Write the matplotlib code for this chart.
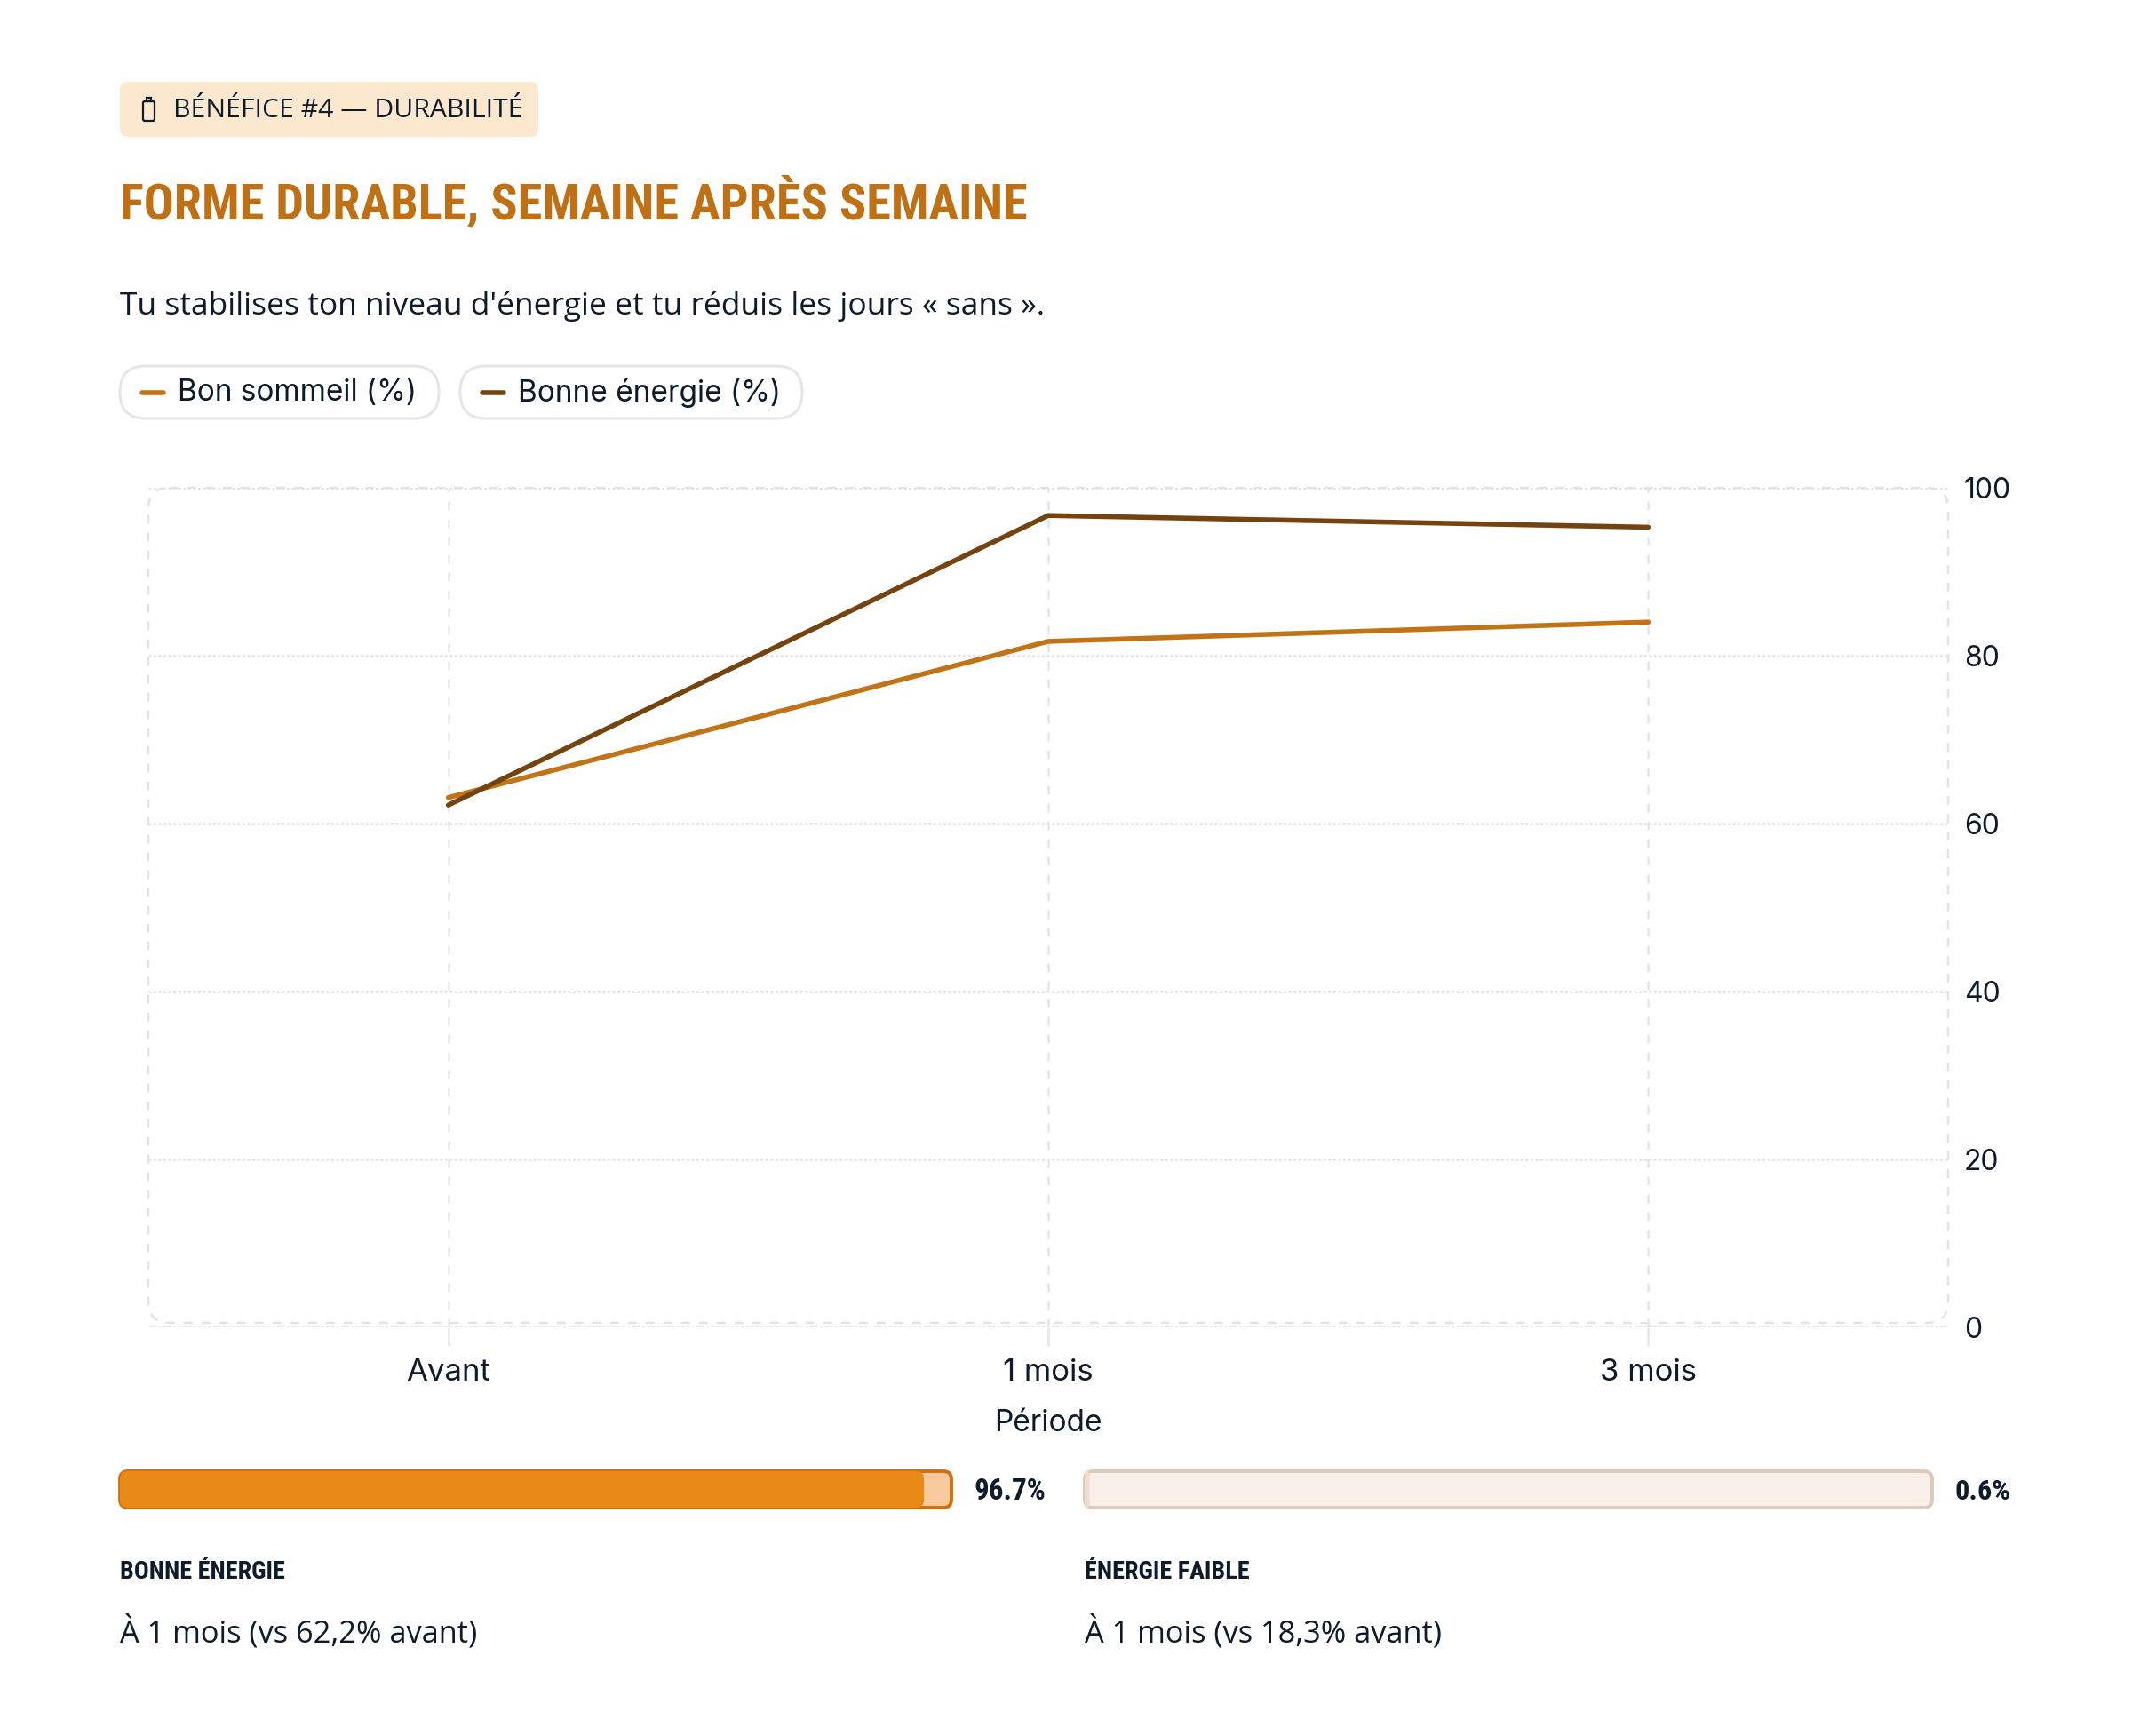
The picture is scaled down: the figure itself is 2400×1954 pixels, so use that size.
import matplotlib
matplotlib.use("Agg")
import matplotlib.pyplot as plt
from matplotlib import font_manager
from matplotlib.patches import FancyBboxPatch, Rectangle


# ------------------------------------------------------------
# DONNÉES
# ------------------------------------------------------------

periodes = ["Avant", "1 mois", "3 mois"]
bon_sommeil = [63.1, 81.7, 84.0]
bonne_energie = [62.2, 96.7, 95.3]
graduations_y = [0, 20, 40, 60, 80, 100]

series_noms = ["Bon sommeil (%)", "Bonne énergie (%)"]
series_couleurs = ["#C07417", "#74430F"]

jauge_valeurs = [96.7, 0.6]
jauge_titres = ["BONNE ÉNERGIE", "ÉNERGIE FAIBLE"]
jauge_notes = ["À 1 mois (vs 62,2% avant)", "À 1 mois (vs 18,3% avant)"]

badge = "BÉNÉFICE #4 — DURABILITÉ"
titre = "FORME DURABLE, SEMAINE APRÈS SEMAINE"
sous_titre = "Tu stabilises ton niveau d'énergie et tu réduis les jours « sans »."


# ------------------------------------------------------------
# STYLE
# ------------------------------------------------------------

W, H = 2400, 1954
SOMBRE = "#0D1B2A"
ORANGE_TITRE = "#BF6F14"

dispo = {f.name for f in font_manager.fontManager.ttflist}
ETROITE, ETIREMENT = "DejaVu Sans", "normal"
for nom in ["Liberation Sans Narrow", "Roboto Condensed", "Open Sans Condensed", "DejaVu Sans Condensed"]:
    if nom in dispo:
        ETROITE = nom
        break
else:
    if any(f.name == "DejaVu Sans" and f.stretch == "condensed" for f in font_manager.fontManager.ttflist):
        ETIREMENT = "condensed"

plt.rcParams["font.family"] = ["Inter", "DejaVu Sans"]
TEXTE = ["Open Sans", "DejaVu Sans"]

fig = plt.figure(figsize=(12, 9.77), dpi=200, facecolor="white")

# calque en pixels pour les éléments hors graphique
bg = fig.add_axes([0, 0, 1, 1], zorder=0)
bg.set_xlim(0, W)
bg.set_ylim(H, 0)
bg.axis("off")


def ajuster(txt, largeur, fs_max=40):
    r = fig.canvas.get_renderer()
    w = txt.get_window_extent(r).width
    txt.set_fontsize(min(fs_max, txt.get_fontsize() * largeur / w))


# ------------------------------------------------------------
# EN-TÊTE
# ------------------------------------------------------------

bg.add_patch(FancyBboxPatch((135, 92), 471, 62, boxstyle="round,pad=0,rounding_size=9",
                            fc="#FCE8CF", ec="none"))
# petite icône batterie
bg.add_patch(FancyBboxPatch((161, 114), 13, 22, boxstyle="round,pad=0,rounding_size=2",
                            fc="none", ec=SOMBRE, lw=0.8))
bg.add_patch(Rectangle((165, 110), 5, 4, fc="none", ec=SOMBRE, lw=0.8))
tb = bg.text(195, 124, badge, fontsize=10, family=TEXTE, color=SOMBRE, va="center", ha="left")
ajuster(tb, 393)

t = bg.text(135, 246, titre, fontsize=30, family=ETROITE, fontstretch=ETIREMENT,
            weight="bold", color=ORANGE_TITRE, va="baseline", ha="left")
ajuster(t, 1020, 32)

ts = bg.text(135, 344, sous_titre, fontsize=11, family=TEXTE, color=SOMBRE, va="center", ha="left")
ajuster(ts, 1040)

# légende en pastilles
for x0, larg, nom, c in zip([135, 518], [359, 385], series_noms, series_couleurs):
    bg.add_patch(FancyBboxPatch((x0, 412), larg, 59, boxstyle="round,pad=0,rounding_size=29",
                                fc="white", ec="#E6E6E6", lw=1.1))
    bg.plot([x0 + 25, x0 + 49], [442, 442], color=c, lw=2.0, solid_capstyle="round")
    bg.text(x0 + 65, 442, nom, fontsize=12, color=SOMBRE, va="center", ha="left")


# ------------------------------------------------------------
# GRAPHIQUE
# ------------------------------------------------------------

haut, bas, gauche, droite = 549, 1494, 167, 2193
bg.add_patch(FancyBboxPatch((gauche, haut), droite - gauche, bas - 5 - haut,
                            boxstyle="round,pad=0,rounding_size=24",
                            fc="none", ec="#E4E4E4", lw=0.9, ls=(0, (4, 4))))

ax = fig.add_axes([gauche / W, 1 - bas / H, (droite - gauche) / W, (bas - haut) / H], zorder=1)
ax.set_facecolor("none")

x = list(range(len(periodes)))
for vals, nom, c in zip([bon_sommeil, bonne_energie], series_noms, series_couleurs):
    ax.plot(x, vals, color=c, lw=2.0, solid_capstyle="round", solid_joinstyle="round", label=nom)

ax.set_xlim(-0.5, len(periodes) - 0.5)
ax.set_ylim(0, 100)
ax.set_xticks(x)
ax.set_xticklabels(periodes)
ax.yaxis.tick_right()
ax.set_yticks(graduations_y)
for s in ax.spines.values():
    s.set_visible(False)

ax.grid(axis="y", linestyle=(0, (1, 1)), color="#E2E2E2", lw=1.0)
ax.grid(axis="x", linestyle=(0, (4, 4)), color="#E6E6E6", lw=0.9)
ax.tick_params(axis="y", length=0, pad=6.5, labelsize=11.5, labelcolor=SOMBRE)
ax.tick_params(axis="x", length=7.5, width=0.9, color="#E6E6E6", pad=5,
               labelsize=12.5, labelcolor=SOMBRE)
ax.set_xlabel("Période", fontsize=12, color=SOMBRE, labelpad=9)


# ------------------------------------------------------------
# JAUGES
# ------------------------------------------------------------

jauges = [
    dict(x0=135, x1=1071, fond="#F7C99E", bord="#D07010", plein="#E88A15", tx=1097, tw=81),
    dict(x0=1221, x1=2175, fond="#F9F0EA", bord="#DCCBBA", plein="#F0DFCF", tx=2201, tw=63),
]
y0, y1 = 1656, 1697

for j, val, tit, note in zip(jauges, jauge_valeurs, jauge_titres, jauge_notes):
    larg = j["x1"] - j["x0"]
    bg.add_patch(FancyBboxPatch((j["x0"], y0), larg, y1 - y0, boxstyle="round,pad=0,rounding_size=9",
                                fc=j["fond"], ec=j["bord"], lw=1.4))
    lp = max(larg * val / 100, 5)
    bg.add_patch(FancyBboxPatch((j["x0"], y0), lp, y1 - y0,
                                boxstyle=f"round,pad=0,rounding_size={min(9, lp / 2)}",
                                fc=j["plein"], ec="none"))
    tv = bg.text(j["tx"], 1688, f"{val}%", fontsize=13, family=ETROITE, fontstretch=ETIREMENT,
                 weight="bold", color=SOMBRE, va="baseline", ha="left")
    ajuster(tv, j["tw"], 14)
    tt = bg.text(j["x0"], 1777, tit, fontsize=11, family=ETROITE, fontstretch=ETIREMENT,
                 weight="bold", color=SOMBRE, va="baseline", ha="left")
    ajuster(tt, 185, 14)
    tn = bg.text(j["x0"], 1849, note, fontsize=11, family=TEXTE, color=SOMBRE, va="baseline", ha="left")
    ajuster(tn, 402)

fig.savefig("out.png", dpi=200, facecolor="white")
